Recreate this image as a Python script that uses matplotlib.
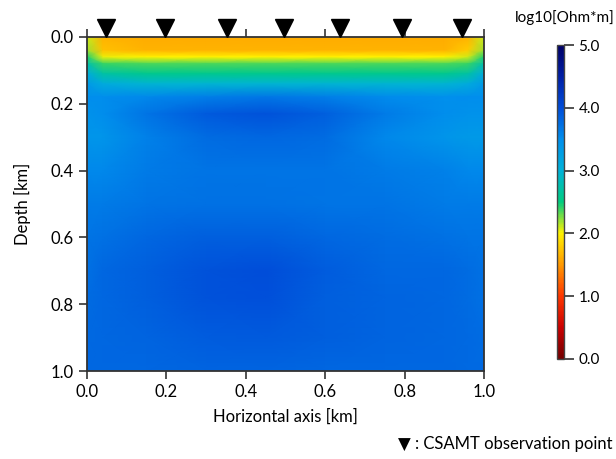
import numpy as np
import matplotlib
matplotlib.use("Agg")
import matplotlib.pyplot as plt
from matplotlib.colors import LinearSegmentedColormap

# resistivity section, log10(Ohm*m)
x_km = [0.0, 0.04, 0.15, 0.3, 0.45, 0.6, 0.75, 0.9, 0.96, 1.0]
depth_km = [0.0, 0.04, 0.06, 0.08, 0.11, 0.14, 0.18, 0.23, 0.30,
            0.40, 0.50, 0.60, 0.70, 0.78, 0.90, 1.0]
log_rho = [
    [2.10, 1.65, 1.62, 1.62, 1.62, 1.62, 1.62, 1.62, 1.65, 2.10],
    [2.20, 1.72, 1.65, 1.65, 1.65, 1.65, 1.65, 1.65, 1.78, 2.20],
    [2.45, 2.05, 2.00, 2.00, 2.00, 2.00, 2.00, 2.00, 2.10, 2.45],
    [2.75, 2.40, 2.35, 2.35, 2.35, 2.35, 2.35, 2.35, 2.40, 2.75],
    [3.10, 2.70, 2.58, 2.58, 2.58, 2.58, 2.58, 2.58, 2.70, 3.10],
    [3.35, 3.10, 2.95, 2.95, 2.95, 2.95, 2.95, 2.95, 3.10, 3.35],
    [3.50, 3.50, 3.55, 3.62, 3.68, 3.62, 3.52, 3.48, 3.50, 3.50],
    [3.45, 3.50, 3.70, 3.90, 3.95, 3.85, 3.65, 3.50, 3.45, 3.45],
    [3.40, 3.40, 3.60, 3.75, 3.80, 3.75, 3.55, 3.40, 3.35, 3.35],
    [3.55, 3.55, 3.65, 3.70, 3.70, 3.70, 3.65, 3.60, 3.55, 3.55],
    [3.65, 3.65, 3.70, 3.72, 3.72, 3.70, 3.70, 3.65, 3.65, 3.65],
    [3.70, 3.72, 3.80, 3.85, 3.85, 3.80, 3.75, 3.72, 3.70, 3.70],
    [3.72, 3.80, 3.85, 3.95, 4.00, 3.88, 3.80, 3.80, 3.75, 3.72],
    [3.75, 3.80, 3.85, 3.95, 3.98, 3.85, 3.82, 3.80, 3.75, 3.72],
    [3.78, 3.80, 3.82, 3.88, 3.90, 3.85, 3.82, 3.80, 3.78, 3.75],
    [3.80, 3.80, 3.80, 3.82, 3.82, 3.80, 3.80, 3.80, 3.78, 3.78],
]
station_x = [0.048, 0.197, 0.353, 0.496, 0.637, 0.793, 0.945]
ticks = [0.0, 0.2, 0.4, 0.6, 0.8, 1.0]
cbar_ticks = [0.0, 1.0, 2.0, 3.0, 4.0, 5.0]

fam = ["Lato", "DejaVu Sans"]
plt.rcParams["font.family"] = fam
plt.rcParams["font.size"] = 12

cmap = LinearSegmentedColormap.from_list("res", [
    (0.0, (0.45, 0.0, 0.0)),
    (0.1, (0.80, 0.0, 0.0)),
    (0.2, (1.0, 0.22, 0.0)),
    (0.3, (1.0, 0.60, 0.0)),
    (0.4, (1.0, 0.95, 0.0)),
    (0.5, (0.0, 0.80, 0.50)),
    (0.6, (0.0, 0.70, 0.85)),
    (0.7, (0.0, 0.56, 0.93)),
    (0.8, (0.0, 0.30, 0.85)),
    (0.9, (0.0, 0.12, 0.65)),
    (1.0, (0.0, 0.0, 0.40)),
])

fig = plt.figure(figsize=(6.16, 4.59), dpi=100)
ax = fig.add_axes([0.1412, 0.1917, 0.6445, 0.7277])

X, Y = np.meshgrid(x_km, depth_km)
mesh = ax.pcolormesh(X, Y, np.array(log_rho), cmap=cmap, vmin=0, vmax=5,
                     shading="gouraud")

ax.set_xlim(0, 1)
ax.set_ylim(1, 0)
ax.set_xticks(ticks)
ax.set_yticks(ticks)
ax.set_xticklabels(["%.1f" % t for t in ticks])
ax.set_yticklabels(["%.1f" % t for t in ticks])
ax.tick_params(direction="out", length=6, width=1.2, color="#333333",
               top=True, right=False, labeltop=False, labelsize=12)
for s in ax.spines.values():
    s.set_color("#333333")
    s.set_linewidth(1.3)
ax.set_xlabel("Horizontal axis [km]", labelpad=6)
ax.set_ylabel("Depth [km]", labelpad=14)

# observation points sitting on the surface
ax.plot(station_x, [-0.026] * len(station_x), "v", color="black",
        markersize=12.5, clip_on=False, zorder=5)

cax = fig.add_axes([0.904, 0.2179, 0.0114, 0.684])
cb = fig.colorbar(mesh, cax=cax, ticks=cbar_ticks)
cb.ax.set_yticklabels(["%.1f" % t for t in cbar_ticks])
cb.ax.tick_params(length=7, width=1.2, color="#333333", labelsize=11)
cb.outline.set_edgecolor("#444444")
cb.outline.set_linewidth(1.0)
fig.text(0.998, 0.962, "log10[Ohm*m]", ha="right", va="center", fontsize=11)

fig.text(0.995, 0.015, "\u25bc : CSAMT observation point", ha="right",
         va="bottom", fontsize=12, family=fam)

fig.savefig("out.png", dpi=100)
